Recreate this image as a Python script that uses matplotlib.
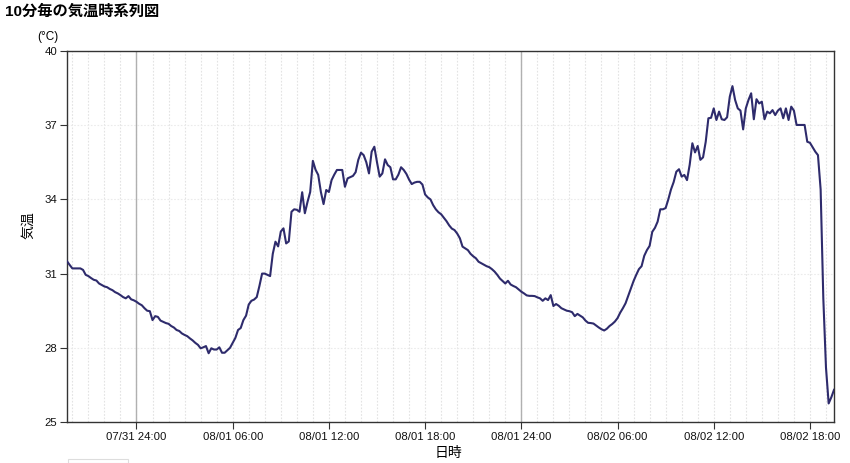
import matplotlib
matplotlib.use("Agg")
import matplotlib.pyplot as plt
import pandas as pd
from matplotlib.patches import Rectangle

plt.rcParams['font.family'] = ['Liberation Sans', 'Noto Sans CJK JP', 'DejaVu Sans']

title = "10分毎の気温時系列図"
start_time = "2023-07-31 19:40"
temps = [
    31.5, 31.35, 31.21, 31.21, 31.21, 31.21, 31.15, 30.95, 30.9, 30.82,
    30.75, 30.72, 30.6, 30.54, 30.48, 30.45, 30.38, 30.33, 30.25, 30.2,
    30.13, 30.05, 30.0, 30.09, 29.96, 29.92, 29.86, 29.78, 29.72, 29.6,
    29.5, 29.48, 29.12, 29.28, 29.25, 29.1, 29.05, 29.0, 28.97, 28.88,
    28.82, 28.72, 28.68, 28.58, 28.52, 28.47, 28.38, 28.3, 28.2, 28.12,
    27.98, 28.02, 28.07, 27.78, 27.98, 27.93, 27.93, 28.02, 27.8, 27.8,
    27.9, 28.0, 28.2, 28.4, 28.72, 28.8, 29.12, 29.3, 29.75, 29.9,
    29.95, 30.05, 30.5, 31.0, 31.0, 30.95, 30.9, 31.8, 32.29, 32.1,
    32.7, 32.83, 32.22, 32.3, 33.5, 33.6, 33.58, 33.5, 34.29, 33.44,
    33.9, 34.3, 35.56, 35.2, 34.99, 34.3, 33.81, 34.38, 34.3, 34.78,
    35.0, 35.19, 35.19, 35.19, 34.51, 34.85, 34.9, 34.95, 35.1, 35.6,
    35.89, 35.79, 35.5, 35.05, 35.93, 36.13, 35.5, 34.92, 35.05, 35.62,
    35.39, 35.3, 34.81, 34.81, 35.0, 35.3, 35.19, 35.03, 34.8, 34.62,
    34.68, 34.71, 34.71, 34.6, 34.2, 34.08, 34.0, 33.77, 33.6, 33.48,
    33.4, 33.26, 33.12, 32.95, 32.82, 32.76, 32.62, 32.43, 32.09, 32.02,
    31.95, 31.8, 31.7, 31.62, 31.48, 31.42, 31.36, 31.3, 31.26, 31.18,
    31.08, 30.95, 30.8, 30.7, 30.6, 30.71, 30.56, 30.5, 30.45, 30.36,
    30.27, 30.2, 30.12, 30.1, 30.1, 30.09, 30.04, 30.0, 29.9, 30.0,
    29.93, 30.13, 29.69, 29.77, 29.7, 29.6, 29.55, 29.5, 29.48, 29.44,
    29.28, 29.37, 29.3, 29.23, 29.1, 29.01, 29.0, 28.98, 28.9, 28.82,
    28.75, 28.7, 28.77, 28.88, 28.96, 29.06, 29.2, 29.42, 29.6, 29.8,
    30.1, 30.4, 30.7, 30.95, 31.18, 31.3, 31.72, 31.95, 32.12, 32.69,
    32.85, 33.1, 33.6, 33.6, 33.65, 34.0, 34.4, 34.7, 35.12, 35.22,
    34.92, 34.99, 34.78, 35.4, 36.27, 35.9, 36.16, 35.6, 35.7, 36.33,
    37.28, 37.3, 37.68, 37.21, 37.55, 37.24, 37.21, 37.32, 38.15, 38.58,
    38.02, 37.68, 37.59, 36.83, 37.68, 38.02, 38.29, 37.24, 38.05, 37.88,
    37.95, 37.24, 37.55, 37.48, 37.61, 37.41, 37.59, 37.68, 37.28, 37.68,
    37.21, 37.75, 37.59, 37.01, 37.01, 37.01, 37.01, 36.33, 36.29, 36.11,
    35.93, 35.79, 34.4, 30.0, 27.2, 25.75, 26.0, 26.3,
]
tick_times = ["2023-08-01 00:00", "2023-08-01 06:00", "2023-08-01 12:00",
              "2023-08-01 18:00", "2023-08-02 00:00", "2023-08-02 06:00",
              "2023-08-02 12:00", "2023-08-02 18:00"]
tick_labels = ["07/31 24:00", "08/01 06:00", "08/01 12:00", "08/01 18:00",
               "08/01 24:00", "08/02 06:00", "08/02 12:00", "08/02 18:00"]
day_boundaries = ["2023-08-01 00:00", "2023-08-02 00:00"]
y_ticks = [25, 28, 31, 34, 37, 40]

times = pd.date_range(start_time, periods=len(temps), freq="10min")

fig = plt.figure(figsize=(8.5, 4.63), dpi=100)
ax = fig.add_axes([67/850, 1-422/463, (834-67)/850, (422-51)/463])

# hourly grid
hours = pd.date_range("2023-07-31 20:00", "2023-08-02 19:00", freq="1h")
for h in hours:
    ax.axvline(h, color="#e3e3e3", lw=0.8, ls=(0, (1.5, 1.5)), zorder=0)
for yv in y_ticks[1:-1]:
    ax.axhline(yv, color="#ebebeb", lw=0.8, ls=(0, (1.5, 1.5)), zorder=0)
for d in day_boundaries:
    ax.axvline(pd.Timestamp(d), color="#b0b0b0", lw=1.0, zorder=1)

ax.plot(times, temps, color="#2e2b6c", lw=1.5, zorder=3)

ax.set_xlim(times[0], times[-1])
ax.set_ylim(25, 40)
ax.set_yticks(y_ticks)
ax.set_yticklabels([str(v) for v in y_ticks], fontsize=8.2)
ax.set_xticks([pd.Timestamp(t) for t in tick_times])
ax.set_xticklabels(tick_labels, fontsize=8.2)
ax.tick_params(axis="both", length=5, width=0.8, color="#333333", pad=2,
               labelcolor="#111111")

for s in ax.spines.values():
    s.set_color("#333333")
    s.set_linewidth(1.0)

ax.set_ylabel("気温", fontsize=10)
ax.yaxis.set_label_coords((28-67)/767, 0.53)
ax.set_xlabel("日時", fontsize=10)
ax.xaxis.set_label_coords((448-67)/767, -(453-422)/371)
ax.xaxis.label.set_va("center")
ax.yaxis.label.set_va("center")

fig.text(5/850, 1-12/463, title, fontsize=11, fontweight="bold", ha="left", va="center")
fig.text(58/850, 1-37/463, "(°C)", fontsize=8.5, ha="right", va="center")

fig.patches.append(Rectangle((68/850, 0), 60/850, 4/463, transform=fig.transFigure,
                             facecolor="white", edgecolor="#dddddd", lw=0.8))

fig.savefig("out.png", dpi=100)
